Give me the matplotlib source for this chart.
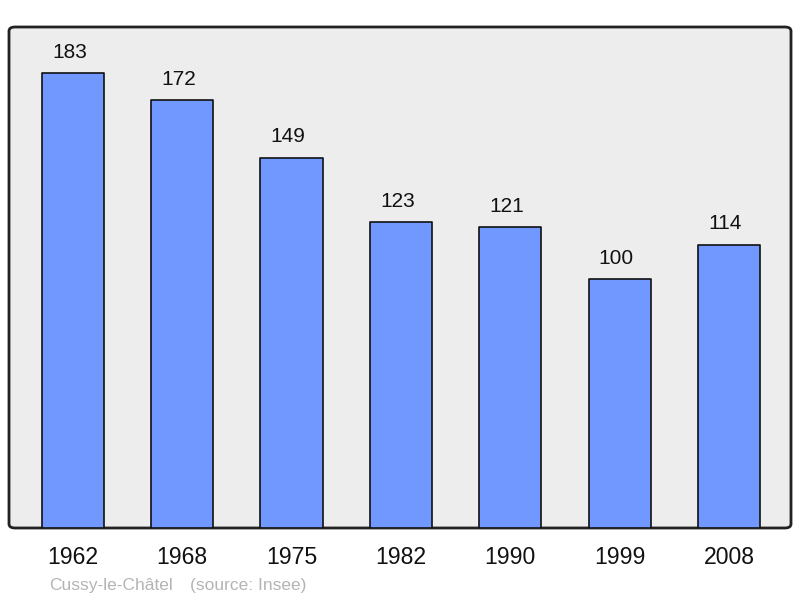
import matplotlib
matplotlib.use("Agg")
from matplotlib import pyplot as plt
from matplotlib.patches import FancyBboxPatch

years = ["1962", "1968", "1975", "1982", "1990", "1999", "2008"]
population = [183, 172, 149, 123, 121, 100, 114]
commune = "Cussy-le-Châtel"
source = "(source: Insee)"

plt.rcParams['font.family'] = ['Liberation Sans', 'DejaVu Sans']

fig = plt.figure(figsize=(8, 5.98), dpi=100)
fig.patch.set_facecolor("white")
ax = fig.add_axes([9/800, 70/598, 782/800, 501/598])
ax.set_facecolor("none")
for s in ax.spines.values():
    s.set_visible(False)

# rounded frame behind the bars
frame = FancyBboxPatch((0, 0), 1, 1, boxstyle="round,pad=0,rounding_size=0.008",
                       transform=ax.transAxes, facecolor="#ededed",
                       edgecolor="#222222", linewidth=2, zorder=0, clip_on=False)
ax.add_patch(frame)

x = range(len(years))
bars = ax.bar(x, population, width=0.57, color="#7098ff", edgecolor="#111111",
              linewidth=1.2, zorder=2)
for b in bars:
    b.set_joinstyle("round")

for i, v in zip(x, population):
    ax.annotate(str(v), (i, v), xytext=(-2.5, 11), textcoords="offset points",
                ha="center", va="baseline", fontsize=15, color="#111111")

ax.set_xlim(-0.585, 6.567)
ax.set_ylim(0, 201.5)
ax.set_xticks(list(x))
ax.set_xticklabels(years, fontsize=16.6, color="#111111")
ax.tick_params(axis="x", length=0, pad=13)
ax.set_yticks([])

fig.text(49/800, 1 - 590/598, commune, fontsize=12.5, color="#b4b4b4", ha="left", va="baseline")
fig.text(190/800, 1 - 590/598, source, fontsize=12.5, color="#b4b4b4", ha="left", va="baseline")

fig.savefig("out.png", dpi=100)
